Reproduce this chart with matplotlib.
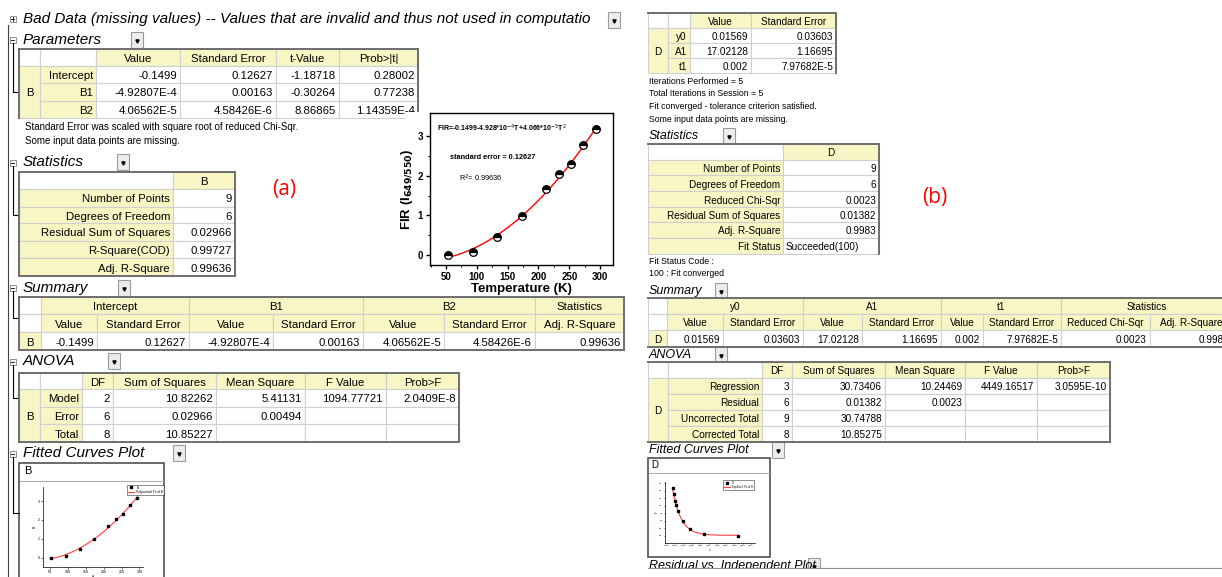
import numpy as np
import matplotlib.pyplot as plt
from matplotlib.patches import Rectangle

plt.rcParams['font.family'] = ['Liberation Sans', 'DejaVu Sans']

W, H = 1222, 577
YEL = '#f8f6c4'
GRID = '#d0d0d0'
EDGE = '#6e6e6e'

# ---- (a) 多项式拟合 ----
temp_k = [53, 93, 133, 173, 213, 233, 253, 273, 293]
fir = [0.0, 0.08, 0.46, 0.98, 1.66, 2.04, 2.29, 2.78, 3.17]
poly_coef = [-0.1499, -4.92807e-4, 4.06562e-5]

a_param_rows = ['Intercept', 'B1', 'B2']
a_param_cols = ['Value', 'Standard Error', 't-Value', 'Prob>|t|']
a_param_vals = [['-0.1499', '0.12627', '-1.18718', '0.28002'],
                ['-4.92807E-4', '0.00163', '-0.30264', '0.77238'],
                ['4.06562E-5', '4.58426E-6', '8.86865', '1.14359E-4']]
a_notes = ['Standard Error was scaled with square root of reduced Chi-Sqr.',
           'Some input data points are missing.']
a_stat_rows = ['Number of Points', 'Degrees of Freedom', 'Residual Sum of Squares',
               'R-Square(COD)', 'Adj. R-Square']
a_stat_vals = ['9', '6', '0.02966', '0.99727', '0.99636']
a_sum_groups = ['Intercept', 'B1', 'B2', 'Statistics']
a_sum_cols = ['Value', 'Standard Error'] * 3 + ['Adj. R-Square']
a_sum_vals = ['-0.1499', '0.12627', '-4.92807E-4', '0.00163', '4.06562E-5', '4.58426E-6', '0.99636']
a_anova_cols = ['DF', 'Sum of Squares', 'Mean Square', 'F Value', 'Prob>F']
a_anova_rows = ['Model', 'Error', 'Total']
a_anova_vals = [['2', '10.82262', '5.41131', '1094.77721', '2.0409E-8'],
                ['6', '0.02966', '0.00494', '', ''],
                ['8', '10.85227', '', '', '']]

# ---- (b) 指数拟合 ----
exp_coef = [0.01569, 17.02128, 0.002]  # y0, A1, t1
b_param_rows = ['y0', 'A1', 't1']
b_param_cols = ['Value', 'Standard Error']
b_param_vals = [['0.01569', '0.03603'], ['17.02128', '1.16695'], ['0.002', '7.97682E-5']]
b_notes = ['Iterations Performed = 5', 'Total Iterations in Session = 5',
           'Fit converged - tolerance criterion satisfied.', 'Some input data points are missing.']
b_stat_rows = ['Number of Points', 'Degrees of Freedom', 'Reduced Chi-Sqr',
               'Residual Sum of Squares', 'Adj. R-Square', 'Fit Status']
b_stat_vals = ['9', '6', '0.0023', '0.01382', '0.9983', 'Succeeded(100)']
b_status_notes = ['Fit Status Code :', '100 : Fit converged']
b_sum_groups = ['y0', 'A1', 't1', 'Statistics']
b_sum_cols = ['Value', 'Standard Error'] * 3 + ['Reduced Chi-Sqr', 'Adj. R-Square']
b_sum_vals = ['0.01569', '0.03603', '17.02128', '1.16695', '0.002', '7.97682E-5', '0.0023', '0.9983']
b_anova_rows = ['Regression', 'Residual', 'Uncorrected Total', 'Corrected Total']
b_anova_vals = [['3', '30.73406', '10.24469', '4449.16517', '3.0595E-10'],
                ['6', '0.01382', '0.0023', '', ''],
                ['9', '30.74788', '', '', ''],
                ['8', '10.85275', '', '', '']]

fig = plt.figure(figsize=(W / 100, H / 100), dpi=100)
ax = fig.add_axes([0, 0, 1, 1])
ax.set_xlim(0, W)
ax.set_ylim(H, 0)
ax.axis('off')


def cell(x0, x1, y0, y1, txt='', fill='white', ha='right', fs=8.2):
    ax.add_patch(Rectangle((x0, y0), x1 - x0, y1 - y0, facecolor=fill, edgecolor=GRID, lw=0.8))
    if txt != '':
        tx = {'right': x1 - 3, 'left': x0 + 3, 'center': (x0 + x1) / 2}[ha]
        ax.text(tx, (y0 + y1) / 2 + 0.5, txt, ha=ha, va='center_baseline', fontsize=fs)


def border(x0, x1, y0, y1, sides='tlrb'):
    if 't' in sides: ax.plot([x0, x1], [y0, y0], color=EDGE, lw=1.4)
    if 'b' in sides: ax.plot([x0, x1], [y1, y1], color=EDGE, lw=1.4)
    if 'l' in sides: ax.plot([x0, x0], [y0, y1], color=EDGE, lw=1.4)
    if 'r' in sides: ax.plot([x1, x1], [y0, y1], color=EDGE, lw=1.4)


def button(x, y, w=12, h=16):
    ax.add_patch(Rectangle((x, y - h / 2), w, h, facecolor='#ececec', edgecolor='#9a9a9a', lw=0.8))
    ax.plot(x + w / 2, y + 1, marker='v', ms=2.3, color='black')


def heading(x, y, txt, bx, fs=11):
    ax.text(x, y, txt, fontsize=fs, style='italic', va='center')
    button(bx, y)


def tree(y_box, y_end):
    # 左侧树形折叠框和连接线
    ax.add_patch(Rectangle((9.5, y_box - 3), 6, 6, facecolor='white', edgecolor='#909090', lw=0.7))
    ax.plot([10.8, 14.2], [y_box, y_box], color='black', lw=0.6)
    if y_end:
        ax.plot([12.5, 12.5, 19], [y_box + 3, y_end, y_end], color='black', lw=0.8)


def row_table(xs, ys, group, rows, cols, vals, fs):
    cell(xs[0], xs[1], ys[0], ys[1])
    cell(xs[1], xs[2], ys[0], ys[1])
    for j, c in enumerate(cols):
        cell(xs[j + 2], xs[j + 3], ys[0], ys[1], c, YEL, 'center', fs)
    cell(xs[0], xs[1], ys[1], ys[-1], group, YEL, 'center', fs)
    for i, r in enumerate(rows):
        cell(xs[1], xs[2], ys[i + 1], ys[i + 2], r, YEL, 'right', fs)
        for j, v in enumerate(vals[i]):
            cell(xs[j + 2], xs[j + 3], ys[i + 1], ys[i + 2], v, 'white', 'right', fs)


def stat_table(xs, ys, group, rows, vals, fs):
    cell(xs[0], xs[1], ys[0], ys[1])
    cell(xs[1], xs[2], ys[0], ys[1], group, YEL, 'center', fs)
    for i, r in enumerate(rows):
        cell(xs[0], xs[1], ys[i + 1], ys[i + 2], r, YEL, 'right', fs)
        ha = 'left' if vals[i].startswith('Succ') else 'right'
        cell(xs[1], xs[2], ys[i + 1], ys[i + 2], vals[i], 'white', ha, fs)


def summary_table(xs, ys, group, groups, cols, vals, fs):
    cell(xs[0], xs[1], ys[0], ys[1])
    cell(xs[0], xs[1], ys[1], ys[2])
    for g, name in enumerate(groups):
        c0 = 1 + 2 * g
        c1 = min(c0 + 2, len(xs) - 1)
        cell(xs[c0], xs[c1], ys[0], ys[1], name, YEL, 'center', fs)
    for j, c in enumerate(cols):
        cell(xs[j + 1], xs[j + 2], ys[1], ys[2], c, YEL, 'center', fs)
    cell(xs[0], xs[1], ys[2], ys[3], group, YEL, 'center', fs)
    for j, v in enumerate(vals):
        cell(xs[j + 1], xs[j + 2], ys[2], ys[3], v, 'white', 'right', fs)


# ================= 左侧报告 (a) =================
ax.plot([7.5, 7.5], [25, H], color='#404040', lw=0.8)
ax.add_patch(Rectangle((9.5, 16), 6, 6, facecolor='white', edgecolor='#909090', lw=0.7))
ax.plot([10.8, 14.2], [19, 19], color='black', lw=0.6)
ax.plot([12.5, 12.5], [17.3, 20.7], color='black', lw=0.6)
ax.text(23, 19, 'Bad Data (missing values) -- Values that are invalid and thus not used in computatio',
        fontsize=11, style='italic', va='center')
button(608, 20)

heading(23, 40, 'Parameters', 131)
tree(40, 92)
xs = [19, 40, 96, 180, 276, 339, 418]
ys = [49, 66, 83, 101, 118]
row_table(xs, ys, 'B', a_param_rows, a_param_cols, a_param_vals, 8.2)
border(19, 418, 49, 118, 'tlr')
for k, t in enumerate(a_notes):
    ax.text(25, 127 + 14 * k, t, fontsize=7, va='center')

heading(23, 162, 'Statistics', 117)
tree(163, 215)
xs = [19, 173, 235]
ys = [172, 189, 207, 223, 241, 258, 276]
stat_table(xs, ys, 'B', a_stat_rows, a_stat_vals, 8.2)
border(19, 235, 172, 276)

ax.text(284, 190, '(a)', fontsize=15, color='#ff0000', ha='center', va='center',
        family=['Open Sans', 'DejaVu Sans'])

heading(23, 288, 'Summary', 118)
tree(288, 318)
xs = [19, 41, 97, 189, 273, 363, 444, 535, 624]
ys = [297, 314, 332, 350]
summary_table(xs, ys, 'B', a_sum_groups, a_sum_cols, a_sum_vals, 8.2)
border(19, 624, 297, 350)

heading(23, 361, 'ANOVA', 108)
tree(362, 398)
xs = [19, 40, 82, 113, 216, 305, 386, 459]
ys = [373, 389, 407, 424, 442]
row_table(xs, ys, 'B', a_anova_rows, a_anova_cols, a_anova_vals, 8.2)
border(19, 459, 373, 442)

heading(23, 453, 'Fitted Curves Plot', 173)
tree(454, 513)
ax.add_patch(Rectangle((19, 463), 145, 120, facecolor='white', edgecolor='#505050', lw=1.2))
ax.text(24, 471, 'B', fontsize=8, va='center')
ax.plot([20, 163], [481, 481], color='#b0b0b0', lw=0.8)

# 插图区域背景
ax.add_patch(Rectangle((405, 112), 227, 184, facecolor='white', edgecolor='none', zorder=5))

# ================= 右侧报告 (b) =================
xs = [648, 668, 690, 751, 836]
ys = [13, 28, 43, 58, 73]
row_table(xs, ys, 'D', b_param_rows, b_param_cols, b_param_vals, 7.2)
border(648, 836, 13, 73, 'tr')
for k, t in enumerate(b_notes):
    ax.text(649, 81 + 12.7 * k, t, fontsize=6.3, va='center')

heading(649, 136, 'Statistics', 723, fs=9)
xs = [648, 783, 879]
ys = [144, 160, 175, 191, 207, 222, 238, 254]
stat_table(xs, ys, 'D', b_stat_rows, b_stat_vals, 7.2)
border(648, 879, 144, 254, 'tr')
for k, t in enumerate(b_status_notes):
    ax.text(649, 262 + 12 * k, t, fontsize=6.3, va='center')

ax.text(935, 197, '(b)', fontsize=15, color='#ff0000', ha='center', va='center',
        family=['Open Sans', 'DejaVu Sans'])

heading(649, 291, 'Summary', 715, fs=9)
xs = [648, 667, 723, 803, 862, 941, 983, 1061, 1150, 1232]
ys = [298, 314, 330, 347]
summary_table(xs, ys, 'D', b_sum_groups, b_sum_cols, b_sum_vals, 7.2)
border(648, 1232, 298, 347, 'tb')

heading(649, 355, 'ANOVA', 715, fs=9)
xs = [648, 668, 762, 792, 885, 965, 1037, 1110]
ys = [362, 378, 394, 410, 426, 442]
row_table(xs, ys, 'D', b_anova_rows, a_anova_cols, b_anova_vals, 7.2)
border(648, 1110, 362, 442, 'trb')

heading(649, 450, 'Fitted Curves Plot', 772, fs=9)
ax.add_patch(Rectangle((648, 458), 122, 99, facecolor='white', edgecolor='#505050', lw=1.2))
ax.text(651, 465, 'D', fontsize=7, va='center')
ax.plot([649, 769], [473, 473], color='#b0b0b0', lw=0.8)

heading(649, 566, 'Residual vs. Independent Plot', 808, fs=9)
ax.add_patch(Rectangle((640, 568), W - 640, 10, facecolor='white', edgecolor='none', zorder=6))
ax.plot([648, W], [568, 568], color='#909090', lw=0.8, zorder=7)


def px_axes(x0, y0, x1, y1):
    return fig.add_axes([x0 / W, 1 - y1 / H, (x1 - x0) / W, (y1 - y0) / H])


# ---- 插图: FIR vs 温度 ----
t_fit = np.linspace(50, 295, 200)
fir_fit = poly_coef[0] + poly_coef[1] * t_fit + poly_coef[2] * t_fit ** 2

axa = px_axes(430, 113, 613, 265)
axa.plot(t_fit, fir_fit, color='red', lw=1)
axa.plot(temp_k, fir, 'o', ms=5.5, color='black', fillstyle='top',
         markerfacecoloralt='white', mew=0.9)
axa.set_xlim(24, 321)
axa.set_ylim(-0.25, 3.58)
axa.set_xticks([50, 100, 150, 200, 250, 300])
axa.set_yticks([0, 1, 2, 3])
axa.set_xticks(np.arange(25, 325, 25), minor=True)
axa.set_yticks([0.5, 1.5, 2.5], minor=True)
axa.tick_params(labelsize=7, length=3, width=1, pad=2)
axa.tick_params(which='minor', length=1.5, width=0.8)
for lab in axa.get_xticklabels() + axa.get_yticklabels():
    lab.set_fontweight('bold')
for s in axa.spines.values():
    s.set_linewidth(1)
axa.set_xlabel('Temperature (K)', fontsize=9.5, fontweight='bold', labelpad=1)
axa.set_ylabel(r'FIR (I$_{\mathbf{649/550}}$)', fontsize=9.5, fontweight='bold', labelpad=2)
axa.text(0.04, 0.9, r'FIR=-0.1499-4.928*10$^{-4}$T+4.066*10$^{-5}$T$^{2}$',
         transform=axa.transAxes, fontsize=5, fontweight='bold', va='center')
axa.text(0.11, 0.71, 'standard error = 0.12627', transform=axa.transAxes,
         fontsize=5.3, fontweight='bold', va='center')
axa.text(0.16, 0.57, r'R$^2$= 0.99636', transform=axa.transAxes, fontsize=5.3, va='center')

# ---- 小图 B ----
axb = px_axes(43, 487, 143, 567)
axb.plot(t_fit, fir_fit, color='#ff4040', lw=0.8, label='Polynomial Fit of B')
axb.plot(temp_k, fir, 's', ms=1.8, color='black', label='B')
axb.set_xlim(30, 310)
axb.set_ylim(-0.5, 3.75)
axb.set_xticks([50, 100, 150, 200, 250, 300])
axb.set_yticks([0, 1, 2, 3])
axb.tick_params(labelsize=2.5, length=1.2, width=0.4, pad=1)
for s in axb.spines.values():
    s.set_linewidth(0.5)
axb.spines['top'].set_visible(False)
axb.spines['right'].set_visible(False)
axb.set_xlabel('A', fontsize=2.5, labelpad=1)
axb.set_ylabel('B', fontsize=2.5, labelpad=1)
h, l = axb.get_legend_handles_labels()
axb.legend(h[::-1], l[::-1], fontsize=2.3, loc='upper left', bbox_to_anchor=(0.82, 1.05),
           frameon=True, fancybox=False, edgecolor='black', borderpad=0.3,
           handlelength=2, labelspacing=0.1).get_frame().set_linewidth(0.4)

# ---- 小图 D ----
inv_t = 1 / np.array(temp_k)
x_fit = np.linspace(inv_t.min(), inv_t.max(), 200)
y_fit = exp_coef[0] + exp_coef[1] * np.exp(-x_fit / exp_coef[2])
axd = px_axes(665, 482, 755, 543)
axd.plot(x_fit, y_fit, color='#ff4040', lw=0.8, label='ExpDec1 Fit of D')
axd.plot(inv_t, fir, 's', ms=1.6, color='black', label='D')
axd.set_xlim(0.0016, 0.0229)
axd.set_ylim(-0.5, 3.6)
axd.set_xticks(np.arange(0.002, 0.0225, 0.002))
axd.set_yticks(np.arange(0, 3.6, 0.5))
axd.tick_params(labelsize=1.6, length=1, width=0.4, pad=0.8)
for s in axd.spines.values():
    s.set_linewidth(0.5)
axd.spines['top'].set_visible(False)
axd.spines['right'].set_visible(False)
axd.set_xlabel('x', fontsize=2.2, labelpad=1)
axd.set_ylabel('y', fontsize=2.2, labelpad=1)
h, l = axd.get_legend_handles_labels()
axd.legend(h[::-1], l[::-1], fontsize=2, loc='upper right', bbox_to_anchor=(1.0, 1.05),
           frameon=True, fancybox=False, edgecolor='black', borderpad=0.3,
           handlelength=2, labelspacing=0.1).get_frame().set_linewidth(0.4)

plt.savefig('out.png', dpi=100)
